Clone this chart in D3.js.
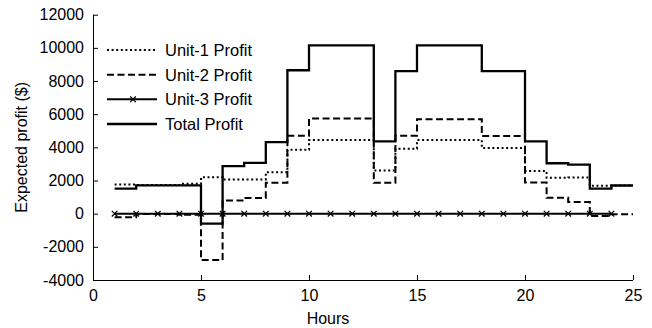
<!DOCTYPE html>
<html>
<head>
<meta charset="utf-8">
<script src="https://cdn.jsdelivr.net/npm/d3@7/dist/d3.min.js"></script>
<style>
  html, body { margin: 0; padding: 0; background: #fff; }
  svg { display: block; }
  text { font-family: "Liberation Sans", Arial, Helvetica, sans-serif; fill: #000; }
</style>
</head>
<body>
<svg id="chart" width="652" height="328"></svg>
<script>
// Hourly expected profit per unit ($), hours 1..24
const hours = [1, 2, 3, 4, 5, 6, 7, 8, 9, 10, 11, 12, 13, 14, 15, 16, 17, 18, 19, 20, 21, 22, 23, 24];
const unit1Profit = [1760, 1730, 1730, 1800, 2200, 2060, 2060, 2500, 3850, 4440, 4440, 4440, 2600, 3920, 4440, 4440, 4440, 3960, 3960, 2570, 2160, 2180, 1680, 1700];
const unit2Profit = [-220, -20, -20, -60, -2800, 800, 950, 1860, 4700, 5740, 5740, 5740, 1860, 4700, 5700, 5700, 5700, 4680, 4680, 1880, 960, 700, -140, -40];
const unit3Profit = [0, 0, 0, 0, 0, 0, 0, 0, 0, 0, 0, 0, 0, 0, 0, 0, 0, 0, 0, 0, 0, 0, 0, 0];
const totalProfit = [1510, 1710, 1710, 1710, -600, 2870, 3060, 4320, 8650, 10150, 10150, 10150, 4360, 8600, 10150, 10150, 10150, 8600, 8600, 4360, 3040, 2960, 1510, 1700];

const xTicks = [0, 5, 10, 15, 20, 25];
const yTicks = [-4000, -2000, 0, 2000, 4000, 6000, 8000, 10000, 12000];
const seriesNames = ["Unit-1 Profit", "Unit-2 Profit", "Unit-3 Profit", "Total Profit"];
const xLabel = "Hours";
const yLabel = "Expected profit ($)";
const stepEnd = 25; // last step of each stairs trace runs to the end of hour 24

const svg = d3.select("#chart");
const plot = { left: 93, right: 633, top: 14.7, bottom: 280 };

const x = d3.scaleLinear().domain([0, 25]).range([plot.left, plot.right]);
const y = d3.scaleLinear().domain([-4000, 12000]).range([plot.bottom, plot.top]);

const fontSize = 16;
const plainNumber = d => String(d); // ASCII hyphen for negatives

// axes (ticks point inward, no box)
const xAxis = d3.axisBottom(x).tickValues(xTicks).tickSize(-5).tickPadding(10).tickFormat(plainNumber);
const yAxis = d3.axisLeft(y).tickValues(yTicks).tickSize(-5).tickPadding(9).tickFormat(plainNumber);

const gx = svg.append("g").attr("transform", `translate(0,${plot.bottom})`).call(xAxis);
const gy = svg.append("g").attr("transform", `translate(${plot.left},0)`).call(yAxis);
[gx, gy].forEach(g => {
  g.select(".domain").attr("stroke", "#000").attr("stroke-width", 1);
  g.selectAll(".tick line").attr("stroke", "#000").attr("stroke-width", 1);
  g.selectAll(".tick text").attr("font-size", fontSize).attr("fill", "#000")
    .style("font-family", '"Liberation Sans", Arial, sans-serif');
});
// flatten domain end caps
gx.select(".domain").attr("d", `M${plot.left},0.5H${plot.right}`);
gy.select(".domain").attr("d", `M0.5,${plot.bottom}V${plot.top}`);

svg.append("text")
  .attr("x", (plot.left + plot.right) / 2 - 35)
  .attr("y", 324)
  .attr("text-anchor", "middle")
  .attr("font-size", fontSize)
  .text(xLabel);

svg.append("text")
  .attr("transform", `translate(27,${(plot.top + plot.bottom) / 2}) rotate(-90)`)
  .attr("text-anchor", "middle")
  .attr("font-size", fontSize)
  .text(yLabel);

const stairsPoints = vals => {
  const pts = hours.map((h, i) => [h, vals[i]]);
  pts.push([stepEnd, vals[vals.length - 1]]);
  return pts;
};

const stepLine = d3.line().x(d => x(d[0])).y(d => y(d[1])).curve(d3.curveStepAfter);
const plainLine = d3.line().x(d => x(d[0])).y(d => y(d[1]));

const styles = [
  { width: 2, dash: "2,2.6" },
  { width: 2, dash: "7,3.5" },
  { width: 2, dash: null },
  { width: 2.3, dash: null }
];

const g = svg.append("g").attr("fill", "none").attr("stroke", "#000").attr("stroke-linejoin", "miter");

const addPath = (d, st) => {
  const p = g.append("path").attr("d", d).attr("stroke-width", st.width);
  if (st.dash) p.attr("stroke-dasharray", st.dash);
  return p;
};

addPath(stepLine(stairsPoints(unit1Profit)), styles[0]);
addPath(stepLine(stairsPoints(unit2Profit)), styles[1]);
addPath(plainLine(hours.map((h, i) => [h, unit3Profit[i]])), styles[2]);

// x markers for Unit-3
const markerPath = (cx, cy, r) => `M${cx - r},${cy - r}L${cx + r},${cy + r}M${cx - r},${cy + r}L${cx + r},${cy - r}`;
g.append("path")
  .attr("d", hours.map((h, i) => markerPath(x(h), y(unit3Profit[i]), 2.8)).join(""))
  .attr("stroke-width", 1.3);

addPath(stepLine(stairsPoints(totalProfit)), styles[3]);

// legend
const legend = svg.append("g");
const legRows = [50, 74.7, 99.3, 124];
seriesNames.forEach((name, i) => {
  const ly = legRows[i];
  const p = legend.append("path")
    .attr("d", `M107,${ly}H157`)
    .attr("fill", "none").attr("stroke", "#000").attr("stroke-width", styles[i].width);
  if (styles[i].dash) p.attr("stroke-dasharray", styles[i].dash);
  if (i === 2) {
    legend.append("path").attr("d", markerPath(133, ly, 2.8))
      .attr("stroke", "#000").attr("stroke-width", 1.3);
  }
  legend.append("text")
    .attr("x", 165)
    .attr("y", ly)
    .attr("dy", "0.36em")
    .attr("font-size", 16.5)
    .text(name);
});
</script>
</body>
</html>
